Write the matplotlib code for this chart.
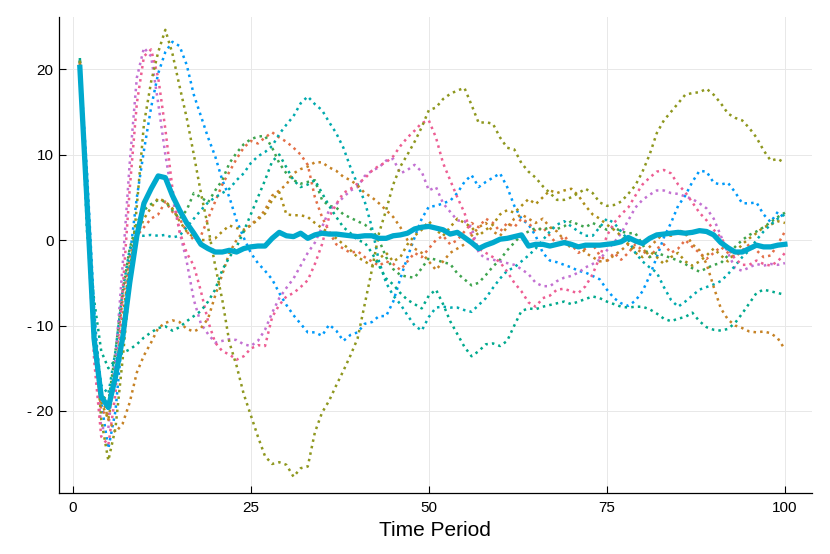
import numpy as np
import matplotlib
matplotlib.use("Agg")
import matplotlib.pyplot as plt

plt.rcParams['font.family'] = ['Liberation Sans', 'DejaVu Sans']

# time axis
t = list(range(1, 101))

# simulated paths
blue = [21, 8, -8, -19, -24.4, -20, -11, -2, 5, 10.5,
        15.5, 19.5, 22, 23.2, 22.7, 20.5, 17, 14.5, 12, 9.8,
        7, 5, 2.3, 0.3, -1.5, -2.7, -3.6, -4.6, -6.2, -7.6,
        -8.8, -9.8, -10.8, -10.8, -11.2, -9.9, -10.6, -11.8, -11.1, -10.8,
        -9.8, -9.6, -8.9, -8.9, -7.2, -4.5, -2, 0.3, 2.5, 3.9,
        4, 4.3, 4.6, 5.5, 6.8, 7.6, 6.2, 6.8, 7.3, 7.8,
        6.2, 4, 2.5, 1.8, 0.5, -1.5, -2.4, -2.6, -2.9, -3.2,
        -3.6, -3.8, -4.2, -4.6, -5.8, -6.8, -7.4, -7.7, -7.1, -6,
        -4.2, -2, 0.3, 2, 4, 5.2, 6.8, 8.1, 8, 6.7,
        6.5, 6.7, 5.6, 4.3, 4.3, 4.4, 3, 2.1, 3.3, 2.5]

orange = [20.8, 3, -12, -20, -20.5, -14, -7, -2, 0.5, 1.5,
          2.5, 3, 4.5, 3.3, 2.5, 1, 0, 0.5, 2.5, 4.5,
          6.5, 8, 9.5, 10.8, 11.6, 11.3, 12, 12.6, 12, 11.5,
          10.8, 10, 8.8, 5, 2.7, 1, -0.5, -1, -1.5, -1.3,
          -2, -2.5, -3, -2.5, -2.8, -3.5, -2.5, -1.5, -2, -1,
          0, 0.5, -0.5, 0, 1, 2, 1.5, 2.5, 2, 1,
          2, 1.5, 2.5, 2, 1, 1.5, 0.5, -0.5, 0.5, -0.5,
          -1.5, -1, -0.5, -1.8, -2.5, -1.5, -2.3, -1.5, -0.5, -1.2,
          -2, -1, -0.5, -1.5, -1, 0, -0.8, -1.5, -2.2, -1.5,
          -0.8, -1.5, -2, -1.2, -0.5, -1.2, -2, -1.8, -0.5, 1]

green = [21, 5, -10, -18, -19, -13, -6, -1, 2, 3.5,
         4.2, 4.7, 4.5, 3.5, 2.5, 3.5, 5.5, 5, 4.4, 5.8,
         7, 9, 10.2, 11.2, 11.8, 12.1, 12.2, 10.8, 9, 7.8,
         7, 6.6, 6.8, 7, 4.7, 4, 3.8, 3, 2.6, 2.2,
         1.8, 1.2, 0, -2, -3.4, -4.1, -4.3, -4.4, -3.3, -2.1,
         -2.3, -2.6, -2.8, -3.9, -4.6, -5.3, -5, -4.1, -3.1, -2.3,
         -1.2, -0.3, 0.6, 1, 1.4, 1.2, 1.5, 1.3, 1.6, 2.2,
         1.8, 1.5, 2, 1.6, 1.2, 1.5, 1, 0.8, 0.8, -0.5,
         -2, -1.5, -1.8, -2.1, -2.4, -2.8, -3.3, -3.7, -3.3, -2.9,
         -2.7, -1.8, -0.8, 0, 0.6, 1, 1.5, 2.1, 2.7, 3.2]

purple = [20.5, 5, -12, -22, -22, -14, -3, 9, 19, 22.5,
          21.5, 16, 10, 5, 1, -2.5, -7, -9.8, -11, -12,
          -11.8, -11.6, -11.7, -12.2, -12.4, -11.8, -10.5, -8.5, -6.8, -5.6,
          -4.5, -3, -1.5, -0.3, 1.5, 3.5, 4.2, 5, 5.8, 6.2,
          7.5, 8.1, 8.5, 9.3, 9.5, 7.8, 8.2, 8.8, 8, 5.8,
          6.2, 4.3, 3.3, 2.3, 2.2, 1.5, -1.5, -2.2, -2.3, -2.5,
          -2.7, -2.9, -3.4, -4, -5, -5.4, -5.4, -4.8, -4.4, -4.2,
          -3.8, -3.2, -2.8, -2.3, -1.2, -0.3, 0.8, 2.3, 3.8, 4.7,
          5.3, 5.8, 5.8, 5.5, 5.4, 5.1, 4.8, 4.3, 3.7, 2.5,
          0.5, -1.5, -3.3, -3.6, -3.2, -2.8, -3, -2.8, -2.9, -2.7]

golden = [20.5, 4, -11, -19, -21, -16, -9, -3, 0.5, 2.5,
          3.8, 4.9, 4.5, 3.7, 2.2, 1, 0.3, 0, 0, 0.2,
          1, 1.7, 1.4, 1.2, 1.7, 2.4, 3.1, 4.7, 5.6, 3,
          2.9, 2.9, 2.7, 2, 1.4, 0.8, 0.2, -0.5, -1.2, -2,
          -2.5, -3, -2.2, -1.5, -2.5, -2, -0.5, 0.5, 1.2, 2.2,
          1.2, 0.5, 1.5, 2.5, 2, 1.5, 0.5, 1.2, 1.8, 3,
          3.5, 3.2, 4, 4.8, 4.2, 5, 5.8, 5.5, 5.8, 6,
          5.2, 4, 3, 2.5, 1.8, 1.2, 0.5, -0.5, -1.5, -2,
          -1.3, -2, -2.8, -2, -1.5, -2.5, -3, -2.5, -1.8, -1,
          -1.8, -2.5, -1.5, -0.5, 0.2, 0.8, 1.5, 1.8, 2.2, 2]

teal = [21, 4, -10, -17, -18, -13, -6, -1, 0.5, 0.5,
        0.6, 0.5, 0.6, 0.3, 0.5, 1.5, 2.5, 3.5, 4.4, 5,
        5.5, 6, 7, 7.8, 9, 9.8, 10.3, 11, 12.4, 13.5,
        14.5, 16, 16.8, 15.9, 15.2, 13.8, 12.5, 10.8, 8.5, 6.5,
        4.5, 1.5, -2.5, -5, -6.5, -7.5, -8.8, -10, -10.6, -9,
        -7.9, -7.8, -7.9, -7.9, -8.2, -8.4, -7.6, -6.8, -5.6, -4.5,
        -3.6, -3.2, -2.5, -1.8, -1, 0, 1, 1.8, 2.2, 1.6,
        1, 0.5, 0.5, 1.5, 2.5, 2, 1, 0, -1.5, -2.5,
        -3.2, -3.8, -5.5, -7, -7.8, -7.2, -6.5, -5.8, -5.5, -5.2,
        -4.8, -4, -3, -2, -1.2, 0, 1, 1.8, 2.5, 3]

pink = [20.5, 3, -14, -23, -24, -18, -6, 6, 16, 21.5,
        22.3, 19, 13, 6, 1, -1.5, -3, -6, -9.5, -12,
        -13, -13.4, -14, -13.6, -12.7, -12.3, -12.4, -9, -7.6, -6.6,
        -6.2, -5.5, -4.7, -2.8, -0.5, 2.7, 4.2, 5.5, 6, 6.6,
        7.2, 8.1, 8.7, 9.1, 9.8, 11, 12, 12.8, 13.7, 14,
        12, 9, 7, 5, 3.2, 0.5, -1, -1.5, -2, -2.6,
        -3.7, -5, -6, -7.3, -7.8, -6.8, -6.5, -5.8, -5.7, -6,
        -6.2, -5.4, -4, -2, 0.5, 2, 3, 3.8, 5.2, 6.5,
        7.3, 8, 8.2, 7.8, 6.5, 5.6, 4.4, 3.2, 2.3, 1.2,
        0.3, -1, -2.2, -2.9, -2.9, -2.4, -2.8, -3, -2.5, -1.5]

brown = [20.8, 4, -10, -18, -21, -22.5, -21.5, -19, -15.5, -13.5,
         -12, -10.3, -9.7, -9.4, -9.6, -10.4, -10.7, -10.3, -9.2, -6.5,
         -4, -1.5, 0, 1, 1.8, 2.5, 3.5, 5.2, 5.8, 6.5,
         7.8, 8.3, 8.6, 9.1, 9.1, 8.5, 8.1, 7.4, 7, 6.4,
         5.5, 5, 4.3, 3.5, 2.7, 1.5, 0, -1, -1.5, -2.5,
         -3.5, -2.5, -1.5, -1, -0.5, 0.5, 1.5, 2, 1, 0.5,
         1.5, 2.5, 3, 2.5, 2, 2.5, 1.5, 1, 0, -1,
         -0.5, -1.5, -2, -2.5, -2.4, -1.8, -1.2, -0.5, -1, -1.5,
         -0.8, 0, 0.8, 0.5, 1.2, 0.8, -0.5, -1.2, -2.8, -5.5,
         -8, -9.3, -10, -10.3, -10.7, -10.8, -10.7, -10.9, -11.5, -12.8]

seagreen = [21.3, 1, -7, -13, -15, -14, -13.2, -12.8, -12.2, -11.4,
            -10.8, -10.3, -10.1, -10.6, -10.2, -9.5, -8.9, -8.3, -7.2, -5.8,
            -3.5, -2, -0.8, 1, 3, 5, 7, 9.2, 10, 8.5,
            7, 6.2, 6.5, 7, 5.5, 4, 2.7, 1.5, 0.8, 0,
            -0.3, -1.5, -3, -4.5, -5.2, -6.2, -7, -7.5, -8, -6.5,
            -5.8, -7.5, -9.5, -11, -12.5, -13.6, -13, -12.2, -12.1, -12.4,
            -11.8, -10, -8.3, -8, -8.1, -7.8, -7.6, -7.4, -7.2, -7.5,
            -7.2, -6.9, -6.6, -6.8, -7.2, -7.5, -7.8, -7.9, -7.8, -7.8,
            -8.1, -8.6, -9.2, -9.5, -9.2, -9, -8.5, -9.5, -10.2, -10.5,
            -10.6, -10.4, -9.7, -8.6, -7.4, -6.2, -5.8, -6, -6.2, -6.4]

olive = [21, 6, -10, -21, -25.8, -22, -14, -5, 4, 13.6,
         18.5, 22, 24.6, 21.8, 18, 14.3, 10, 5.5, 1.5, -3,
         -7, -12, -14.7, -18, -20.5, -23, -25.3, -26.2, -26, -26.3,
         -27.7, -26.7, -26.5, -22.5, -20.2, -18.8, -17, -15.3, -13.5, -11.5,
         -7.5, -3.5, 0.8, 3.5, 6.5, 8.6, 10, 11.5, 13.2, 15.2,
         15.5, 16.5, 17.1, 17.5, 17.8, 15.8, 13.7, 13.8, 13.6, 12,
         10.8, 10.6, 9, 8, 7.3, 6.3, 5.5, 4.7, 4.7, 5,
         5.5, 6, 5.5, 4.4, 4, 4.1, 4.5, 5.4, 6.4, 8,
         10, 12.5, 14, 15, 16, 17, 17.2, 17.3, 17.7, 17,
         16, 14.8, 14.3, 14, 13.1, 12, 10.5, 9.3, 9.5, 9]

# average path (thick line)
mean_path = [20.2, 4.5, -11.6, -18.3, -19.6, -16, -11.5, -5, 0.5, 4.3,
             6, 7.5, 7.3, 5.2, 3.5, 2, 0.8, -0.5, -1, -1.4,
             -1.4, -1.2, -1.4, -1.0, -0.8, -0.7, -0.7, 0.2, 0.9, 0.5,
             0.4, 0.8, 0.2, 0.6, 0.8, 0.7, 0.7, 0.6, 0.5, 0.4,
             0.5, 0.5, 0.2, 0.2, 0.5, 0.6, 0.8, 1.3, 1.5, 1.6,
             1.4, 1.2, 0.7, 0.9, 0.3, -0.3, -1.0, -0.6, -0.3, 0.1,
             0.2, 0.4, 0.6, -0.7, -0.5, -0.5, -0.7, -0.5, -0.3, -0.5,
             -0.8, -0.6, -0.6, -0.6, -0.5, -0.4, -0.2, 0.3, -0.1, -0.4,
             0.2, 0.6, 0.7, 0.8, 0.9, 0.8, 0.9, 1.1, 1.0, 0.6,
             -0.3, -0.9, -1.4, -1.4, -1.0, -0.6, -0.8, -0.8, -0.6, -0.5]

paths = [blue, orange, green, purple, golden, teal, pink, brown, seagreen, olive]
colors = ['#009AFA', '#E36F47', '#3EA44E', '#C371D2', '#AC8E18',
          '#00AAAE', '#ED5E93', '#C68225', '#00A98D', '#8E971E']

xtick_vals = [0, 25, 50, 75, 100]
ytick_vals = [-20, -10, 0, 10, 20]
ytick_text = ['- 20', '- 10', '0', '10', '20']

fig = plt.figure(figsize=(8.3, 5.54), dpi=100)
ax = fig.add_axes([58.5 / 830, 61 / 554, (812 - 58.5) / 830, (493 - 17) / 554])

for p, c in zip(paths, colors):
    ax.plot(t, p, color=c, lw=1.8, ls=':')
ax.plot(t, mean_path, color='#00A9CD', lw=3.8, solid_joinstyle='round')

ax.set_xlim(-2, 103.8)
ax.set_ylim(-29.6, 26.1)
ax.set_xticks(xtick_vals)
ax.set_yticks(ytick_vals)
ax.set_yticklabels(ytick_text)
ax.tick_params(direction='in', length=5, width=0.8, labelsize=11, colors='black')
ax.tick_params(axis='x', pad=6)
ax.grid(True, color='#e8e8e8', lw=0.7)
ax.set_axisbelow(True)
for s in ['top', 'right']:
    ax.spines[s].set_visible(False)
for s in ['left', 'bottom']:
    ax.spines[s].set_linewidth(0.9)
ax.set_xlabel('Time Period', fontsize=15, labelpad=4)

fig.savefig('out.png', dpi=100)
